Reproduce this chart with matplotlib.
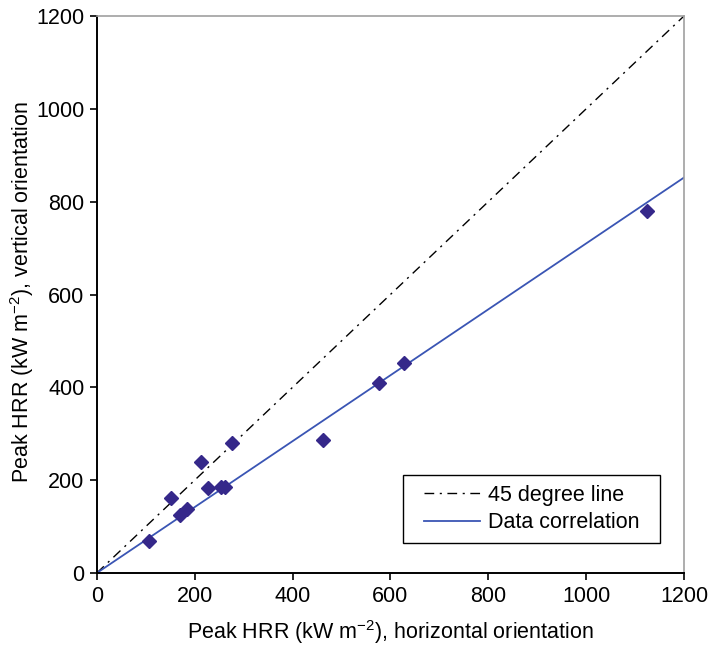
import numpy as np
import matplotlib
matplotlib.use("Agg")
import matplotlib.pyplot as plt
from matplotlib.legend_handler import HandlerLine2D

plt.rcParams['font.family'] = ['Liberation Sans', 'DejaVu Sans']
plt.rcParams['mathtext.fontset'] = 'custom'
plt.rcParams['mathtext.rm'] = 'Liberation Sans'
plt.rcParams['mathtext.default'] = 'regular'

# ── Data ───────────────────────────────────────────────────────────
hrr_horizontal = [107, 151, 171, 185, 213, 228, 254, 263, 276, 463, 577, 628, 1124]
hrr_vertical   = [68, 161, 126, 139, 240, 184, 186, 186, 281, 287, 410, 452, 780]
corr_slope = 0.71
line_x = [0, 1200]
ticks = [0, 200, 400, 600, 800, 1000, 1200]

_MARK = "#35288a"
_BLUE = "#3a55b4"

fig = plt.figure(figsize=(7.17, 6.48), dpi=100)
ax = fig.add_axes([0.135, 0.1157, 0.819, 0.8596])

l45, = ax.plot(line_x, line_x, color="black", linewidth=1.0,
               linestyle=(0, (7, 4, 1.5, 4)), label="45 degree line")
lcorr, = ax.plot(line_x, [corr_slope * v for v in line_x], color=_BLUE,
                 linewidth=1.3, label="Data correlation")
ax.plot(hrr_horizontal, hrr_vertical, linestyle="none", marker="D",
        markersize=7, color=_MARK, zorder=3)

ax.set_xlim(0, 1200)
ax.set_ylim(0, 1200)
ax.set_xticks(ticks)
ax.set_yticks(ticks)
ax.tick_params(direction="out", length=5, width=1.2, labelsize=15.5,
               top=False, right=False, pad=4)
for side in ("left", "bottom"):
    ax.spines[side].set_color("black")
    ax.spines[side].set_linewidth(1.4)
for side in ("top", "right"):
    ax.spines[side].set_color("#a0a0a0")
    ax.spines[side].set_linewidth(1.2)

ax.set_xlabel("Peak HRR (kW m$^{-2}$), horizontal orientation", fontsize=15.5, labelpad=8)
ax.set_ylabel("Peak HRR (kW m$^{-2}$), vertical orientation", fontsize=15.5)
ax.yaxis.set_label_coords(-0.103, 0.505)

# legend box stretched to the reference width, handle inset from the left
hmap = {l45: HandlerLine2D(xpad=0.56), lcorr: HandlerLine2D(xpad=0.56)}
leg = ax.legend(handles=[l45, lcorr], handler_map=hmap,
                loc="lower left", bbox_to_anchor=(0.521, 0.054, 0.438, 0.12),
                mode="expand", borderaxespad=0,
                fontsize=15.5, fancybox=False, edgecolor="black", framealpha=1,
                handlelength=3.16, handletextpad=0.35, borderpad=0.45,
                labelspacing=0.3)
leg.get_frame().set_linewidth(1.0)

fig.savefig("out.png", dpi=100)
